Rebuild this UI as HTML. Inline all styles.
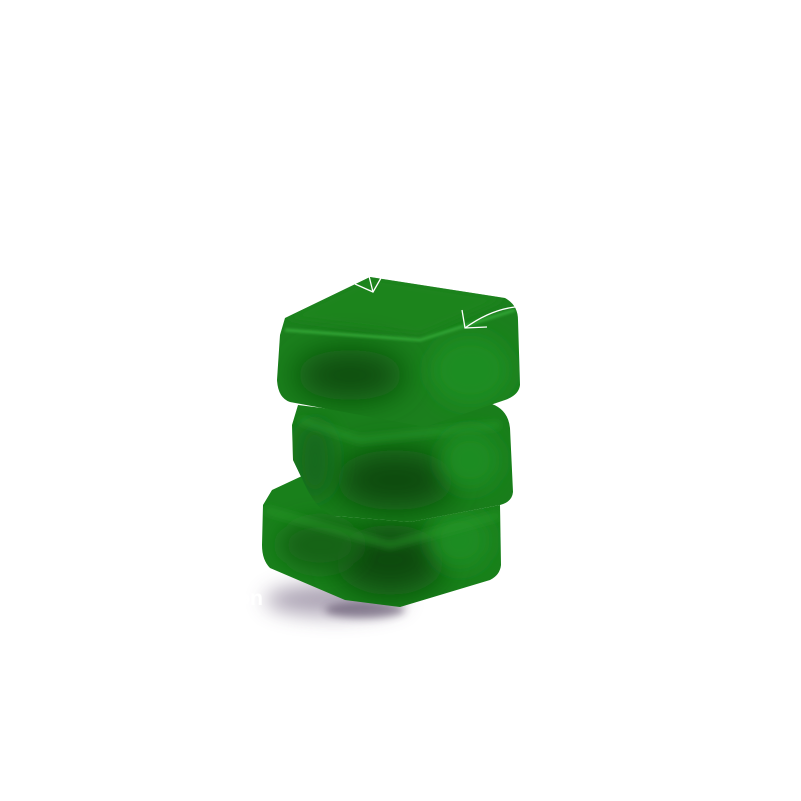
<!DOCTYPE html>
<html><head><style>
html,body{margin:0;padding:0;background:#fff;width:801px;height:801px;overflow:hidden}
svg{display:block}
</style></head><body>
<svg width="801" height="801" viewBox="0 0 801 801" xmlns="http://www.w3.org/2000/svg">
<defs>
<filter id="b4" x="-100%" y="-100%" width="300%" height="300%"><feGaussianBlur stdDeviation="4"/></filter>
<filter id="b10" x="-100%" y="-100%" width="300%" height="300%"><feGaussianBlur stdDeviation="10"/></filter>
<filter id="b16" x="-100%" y="-100%" width="300%" height="300%"><feGaussianBlur stdDeviation="16"/></filter>
<filter id="b1" x="-100%" y="-100%" width="300%" height="300%"><feGaussianBlur stdDeviation="1.2"/></filter>
<clipPath id="cTop"><path d="M285,318 L370,277 L505,298 Q518,305 518,320 L520,385 Q519,395 505,400 L425,427 L290,402 Q278,398 277,380 L280,335 Z"/></clipPath>
<clipPath id="cMid"><path d="M298,405 L420,420 L492,404 Q508,410 510,428 L513,492 Q512,502 500,505 L410,522 L335,516 Q318,512 305,485 L293,460 L292,425 Z"/></clipPath>
<clipPath id="cBot"><path d="M272,490 L302,476 L335,516 L410,522 L500,505 L501,565 Q500,575 490,580 L400,607 L345,600 L270,568 Q262,560 262,545 L263,505 Z"/></clipPath>
</defs>
<!-- shadow -->
<ellipse cx="335" cy="600" rx="70" ry="16" fill="#5a4a6a" opacity="0.5" filter="url(#b10)"/>
<ellipse cx="365" cy="610" rx="40" ry="8" fill="#3a2a4a" opacity="0.45" filter="url(#b4)"/>
<text x="200" y="605" font-family="Liberation Sans, sans-serif" font-weight="bold" font-size="21" fill="#fff">nction</text>
<!-- bottom gummy -->
<g clip-path="url(#cBot)">
<rect x="250" y="460" width="270" height="160" fill="#19801b"/>
<ellipse cx="390" cy="560" rx="55" ry="35" fill="#0a4a0b" filter="url(#b16)"/>
<ellipse cx="320" cy="545" rx="40" ry="25" fill="#136314" filter="url(#b10)"/>
<ellipse cx="460" cy="540" rx="30" ry="30" fill="#1e8c20" filter="url(#b10)"/>
<path d="M265,510 L390,545 L500,515" stroke="#2a9a2c" stroke-width="4" fill="none" filter="url(#b4)"/>
</g>
<!-- middle gummy -->
<g clip-path="url(#cMid)">
<rect x="285" y="395" width="240" height="135" fill="#197e1b"/>
<ellipse cx="395" cy="480" rx="60" ry="30" fill="#0a4a0b" filter="url(#b16)"/>
<ellipse cx="315" cy="460" rx="20" ry="40" fill="#16691a" filter="url(#b10)"/>
<path d="M300,420 L360,440 L500,425" stroke="#2b9b2d" stroke-width="4" fill="none" filter="url(#b4)"/>
<ellipse cx="470" cy="460" rx="30" ry="30" fill="#1f8c22" filter="url(#b10)"/>
</g>
<!-- top gummy -->
<g clip-path="url(#cTop)">
<rect x="270" y="270" width="260" height="165" fill="#1b801d"/>
<path d="M285,318 L370,277 L505,298 L420,335 Z" fill="#1d841f" filter="url(#b4)"/>
<ellipse cx="350" cy="375" rx="55" ry="25" fill="#0b4c0c" filter="url(#b16)"/>
<ellipse cx="470" cy="370" rx="40" ry="35" fill="#1f8d22" filter="url(#b10)"/>
<path d="M285,330 L420,340 L515,310" stroke="#33a536" stroke-width="3" fill="none" filter="url(#b1)"/>
<path d="M282,340 L282,395" stroke="#ffffff" stroke-width="3" fill="none" opacity="0.8" filter="url(#b1)"/>
</g>
<!-- white arrows -->
<g stroke="#fff" stroke-width="1.3" fill="none">
<path d="M355,284 L373,292 L381,278"/>
<path d="M369,276 L373,292"/>
<path d="M515,307 Q490,310 465,328 M462,310 L465,328 L487,327"/>
</g>
</svg>
</body></html>
